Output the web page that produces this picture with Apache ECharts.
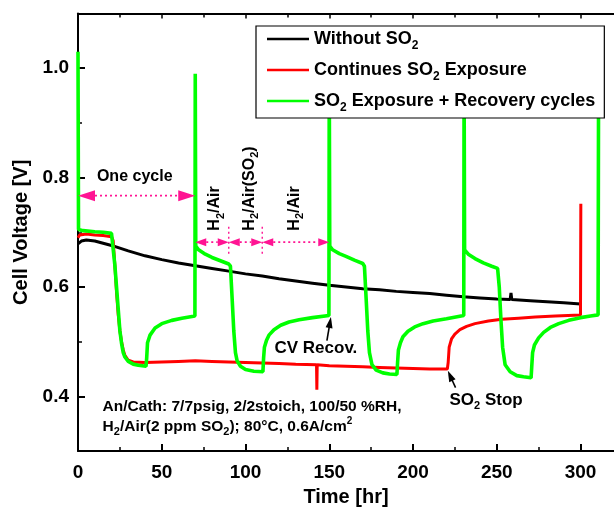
<!DOCTYPE html>
<html><head><meta charset="utf-8">
<script src="https://cdn.jsdelivr.net/npm/echarts@6/dist/echarts.min.js"></script>
<style>html,body{margin:0;padding:0;background:#fff}#c{width:614px;height:512px}</style>
</head><body><div id="c"></div>
<script>
// ---------------- data ----------------
const seriesNames = ['Without SO2', 'Continues SO2 Exposure', 'SO2 Exposure + Recovery cycles'];
const xMajorTicks = [0, 50, 100, 150, 200, 250, 300];
const xMinorTicks = [25, 75, 125, 175, 225, 275];
const yMajorTicks = [0.4, 0.6, 0.8, 1.0];
const yMinorTicks = [0.5, 0.7, 0.9];

const withoutSO2 = [
  [0,0.679],[2,0.684],[5,0.686],[10,0.684],[15,0.680],[20,0.676],[25,0.671],[30,0.666],
  [40,0.657],[50,0.650],[60,0.644],[70,0.639],[80,0.634],[90,0.629],[100,0.624],[110,0.620],
  [120,0.615],[130,0.611],[140,0.607],[150,0.603],[160,0.600],[170,0.597],[180,0.595],
  [190,0.592],[200,0.590],[210,0.588],[220,0.585],[230,0.582],[240,0.580],[250,0.578],
  [258,0.577],[258.5,0.589],[259,0.577],[270,0.575],[280,0.573],[290,0.571],[300,0.569]
];
const continuesSO2 = [
  [0,0.690],[1,0.695],[5,0.697],[10,0.695],[15,0.694],[20,0.692],[21,0.685],[22,0.640],
  [23,0.590],[24,0.550],[25,0.520],[26,0.500],[27,0.485],[28,0.475],[30,0.466],[33,0.463],
  [40,0.462],[50,0.463],[60,0.464],[70,0.465],[80,0.464],[90,0.463],[100,0.462],[110,0.461],
  [120,0.460],[130,0.459],[142.4,0.458],[142.6,0.412],[142.8,0.458],[150,0.456],[160,0.455],
  [170,0.454],[180,0.453],[190,0.452],[200,0.451],[210,0.450],[220.5,0.450],[221,0.462],
  [221.6,0.490],[223,0.505],[225,0.514],[228,0.522],[232,0.528],[237,0.533],[245,0.538],
  [253,0.541],[263,0.543],[273,0.545],[285,0.547],[300,0.549],[300.2,0.752]
];
const recoveryCycles = [
  [0,1.030],[0.3,0.705],[3,0.703],[10,0.701],[15,0.700],[20,0.698],[21,0.695],[22,0.640],
  [23,0.600],[24,0.560],[25,0.520],[26,0.497],[27,0.480],[28,0.472],[30,0.464],[33,0.459],
  [36,0.457],[40.6,0.455],[41,0.470],[41.5,0.498],[43,0.512],[46,0.525],[50,0.533],[56,0.539],
  [62,0.543],[69.8,0.547],[70,0.990],[70.3,0.675],[72,0.668],[76,0.660],[80,0.654],[85,0.648],
  [90,0.642],[91,0.638],[92,0.580],[93,0.520],[94,0.480],[95,0.465],[97,0.455],[100,0.449],
  [105,0.446],[110.4,0.445],[110.8,0.470],[111.3,0.490],[112.5,0.502],[114,0.512],[117,0.522],
  [121,0.530],[126,0.536],[132,0.540],[140,0.544],[149.8,0.548],[150,0.990],[150.3,0.675],
  [152,0.668],[156,0.661],[160,0.656],[165,0.649],[170,0.643],[171,0.638],[172,0.580],
  [173,0.520],[174,0.480],[175.5,0.458],[178,0.448],[182,0.443],[186,0.441],[190.4,0.440],
  [190.8,0.462],[191.3,0.485],[192.5,0.498],[194,0.509],[197,0.519],[201,0.527],[206,0.533],
  [212,0.538],[220,0.542],[230.3,0.548],[230.5,0.990],[230.8,0.668],[233,0.660],[237,0.652],
  [242,0.644],[247,0.638],[250.5,0.634],[251.5,0.600],[252.5,0.540],[253.5,0.490],[255,0.458],
  [258,0.445],[262,0.438],[266,0.436],[270.5,0.434],[270.9,0.455],[271.4,0.480],[272.5,0.494],
  [275,0.507],[278,0.517],[282,0.526],[287,0.533],[293,0.539],[300,0.544],[306,0.547],
  [310.5,0.549],[310.8,0.990]
];

// annotation anchors in data units [time, voltage]
const cycleArrow = [[0,0.767],[70,0.767]];
const phaseArrowY = 0.682;
const phaseBounds = [70, 90, 110, 150];
const phaseDividerY = [0.710, 0.659];
const phaseLabels = [['H{s|2}/Air', 81.8], ['H{s|2}/Air(SO{s|2})', 102.6], ['H{s|2}/Air', 129.4]];
const phaseLabelBottomV = 0.703;

// ---------------- chart ----------------
const FONT = "'Liberation Sans', Arial, Helvetica, sans-serif";
const PINK = '#ff1493';
const chart = echarts.init(document.getElementById('c'), null, {renderer: 'canvas'});
const colors = ['#000000', '#ff0000', '#00ff00'];
const subLegend = {fontSize: 12, fontWeight: 'bold', fontFamily: FONT, color: '#000', lineHeight: 12, verticalAlign: 'bottom'};

function tickAxis(pos, values, len, extra) {
  return Object.assign({
    type: 'value', min: 0, max: 320, position: pos,
    axisLine: {show: false}, splitLine: {show: false},
    axisLabel: {show: false},
    axisTick: {show: true, inside: true, length: len, customValues: values, lineStyle: {color: '#000', width: 1.5}}
  }, extra || {});
}

const option = {
  animation: false,
  backgroundColor: '#fff',
  grid: {left: 78, top: 13.5, width: 537.6, height: 443.6, containLabel: false},
  legend: {
    data: seriesNames,
    orient: 'vertical',
    left: 256, top: 26,
    padding: [0, 9, 4, 11],
    itemGap: 5,
    itemWidth: 42, itemHeight: 2.5,
    icon: 'rect',
    backgroundColor: '#fff',
    borderColor: '#000', borderWidth: 1.2,
    formatter: n => n.replace('SO2', 'SO{s|2}'),
    textStyle: {
      fontSize: 18, fontWeight: 'bold', fontFamily: FONT, color: '#000', lineHeight: 26,
      rich: {s: subLegend}
    }
  },
  xAxis: [
    {
      type: 'value', min: 0, max: 320, position: 'bottom',
      axisLine: {show: true, onZero: false, lineStyle: {color: '#000', width: 2}},
      axisTick: {show: true, inside: true, length: 7, customValues: xMajorTicks, lineStyle: {color: '#000', width: 2}},
      axisLabel: {customValues: xMajorTicks, fontSize: 19, fontWeight: 'bold', fontFamily: FONT, color: '#000', margin: 12},
      splitLine: {show: false},
      name: 'Time [hr]', nameLocation: 'middle', nameGap: 31,
      nameTextStyle: {fontSize: 20, fontWeight: 'bold', fontFamily: FONT, color: '#000'}
    },
    tickAxis('bottom', xMinorTicks, 4),
    tickAxis('top', xMajorTicks, 5, {axisLine: {show: true, onZero: false, lineStyle: {color: '#000', width: 2}}}),
    tickAxis('top', xMinorTicks, 4)
  ],
  yAxis: [
    {
      type: 'value', min: 0.3, max: 1.1, position: 'left',
      axisLine: {show: true, onZero: false, lineStyle: {color: '#000', width: 2}},
      axisTick: {show: true, inside: true, length: 7, customValues: yMajorTicks, lineStyle: {color: '#000', width: 2}},
      axisLabel: {customValues: yMajorTicks, formatter: v => v.toFixed(1), fontSize: 19, fontWeight: 'bold', fontFamily: FONT, color: '#000', margin: 9},
      splitLine: {show: false},
      name: 'Cell Voltage [V]', nameLocation: 'middle', nameGap: 47, nameRotate: 90,
      nameTextStyle: {fontSize: 20, fontWeight: 'bold', fontFamily: FONT, color: '#000'}
    },
    {
      type: 'value', min: 0.3, max: 1.1, position: 'left',
      axisLine: {show: false}, splitLine: {show: false}, axisLabel: {show: false},
      axisTick: {show: true, inside: true, length: 4, customValues: yMinorTicks, lineStyle: {color: '#000', width: 1.5}}
    }
  ],
  series: [
    {name: seriesNames[0], type: 'line', data: withoutSO2, showSymbol: false, xAxisIndex: 0, yAxisIndex: 0,
     color: colors[0], lineStyle: {width: 3, color: colors[0]}},
    {name: seriesNames[1], type: 'line', data: continuesSO2, showSymbol: false, xAxisIndex: 0, yAxisIndex: 0,
     color: colors[1], lineStyle: {width: 3, color: colors[1]}},
    {name: seriesNames[2], type: 'line', data: recoveryCycles, showSymbol: false, xAxisIndex: 0, yAxisIndex: 0,
     color: colors[2], lineStyle: {width: 3.6, color: colors[2]}}
  ]
};
chart.setOption(option);

// ---------------- annotations ----------------
const P = (t, v) => chart.convertToPixel({xAxisIndex: 0, yAxisIndex: 0}, [t, v]);
const g = [];
const txtSub = {fontSize: 11, fontWeight: 'bold', fontFamily: FONT, fill: '#000', lineHeight: 11, verticalAlign: 'bottom'};
const txtSup = {fontSize: 10, fontWeight: 'bold', fontFamily: FONT, fill: '#000', lineHeight: 10, verticalAlign: 'top'};

function dotted(a, b, w) {
  g.push({type: 'line', z: 100, shape: {x1: a[0], y1: a[1], x2: b[0], y2: b[1]},
    style: {stroke: PINK, lineWidth: w || 1.6, lineDash: [2, 3]}});
}
function head(tip, dir, len, half, color) {
  const bx = tip[0] - dir[0] * len, by = tip[1] - dir[1] * len;
  const nx = -dir[1], ny = dir[0];
  g.push({type: 'polygon', z: 101, shape: {points: [[tip[0], tip[1]], [bx + nx * half, by + ny * half], [bx - nx * half, by - ny * half]]},
    style: {fill: color || PINK}});
}
function dblArrow(t1, t2, v, len, half) {
  const a = P(t1, v), b = P(t2, v);
  dotted([a[0] + len, a[1]], [b[0] - len, b[1]]);
  head(a, [-1, 0], len, half);
  head(b, [1, 0], len, half);
}
function text(t, v, str, size, opts) {
  const p = P(t, v);
  g.push(Object.assign({type: 'text', z: 102, x: p[0], y: p[1],
    style: {text: str, fontSize: size, fontWeight: 'bold', fontFamily: FONT, fill: '#000',
      align: 'left', verticalAlign: 'middle', lineHeight: size + 6, rich: {s: txtSub, p: txtSup}}}, opts || {}));
}
function blackArrow(tail, tip) {
  const a = P(tail[0], tail[1]), b = P(tip[0], tip[1]);
  const dx = b[0] - a[0], dy = b[1] - a[1], L = Math.hypot(dx, dy);
  const d = [dx / L, dy / L];
  g.push({type: 'line', z: 100, shape: {x1: a[0], y1: a[1], x2: b[0] - d[0] * 8, y2: b[1] - d[1] * 8},
    style: {stroke: '#000', lineWidth: 1.6}});
  head(b, d, 11, 3.5, '#000');
}

dblArrow(cycleArrow[0][0], cycleArrow[1][0], cycleArrow[0][1], 17, 5.5);
text(11.3, 0.801, 'One cycle', 16);
for (let i = 0; i < phaseBounds.length - 1; i++) dblArrow(phaseBounds[i], phaseBounds[i + 1], phaseArrowY, 11, 4);
[90, 110].forEach(t => dotted(P(t, phaseDividerY[0]), P(t, phaseDividerY[1]), 1.4));
phaseLabels.forEach(([s, t]) => text(t, phaseLabelBottomV, s, 16, {rotation: Math.PI / 2}));
text(117.3, 0.488, 'CV Recov.', 17);
blackArrow([148.6, 0.502], [151, 0.545]);
text(221.8, 0.393, 'SO{s|2} Stop', 17);
blackArrow([225.4, 0.416], [220.8, 0.447]);
text(14.7, 0.382, 'An/Cath: 7/7psig, 2/2stoich, 100/50 %RH,', 15.5);
text(14.7, 0.344, 'H{s|2}/Air(2 ppm SO{s|2}); 80°C, 0.6A/cm{p|2}', 15.5);

chart.setOption({graphic: g});
</script>
</body></html>
